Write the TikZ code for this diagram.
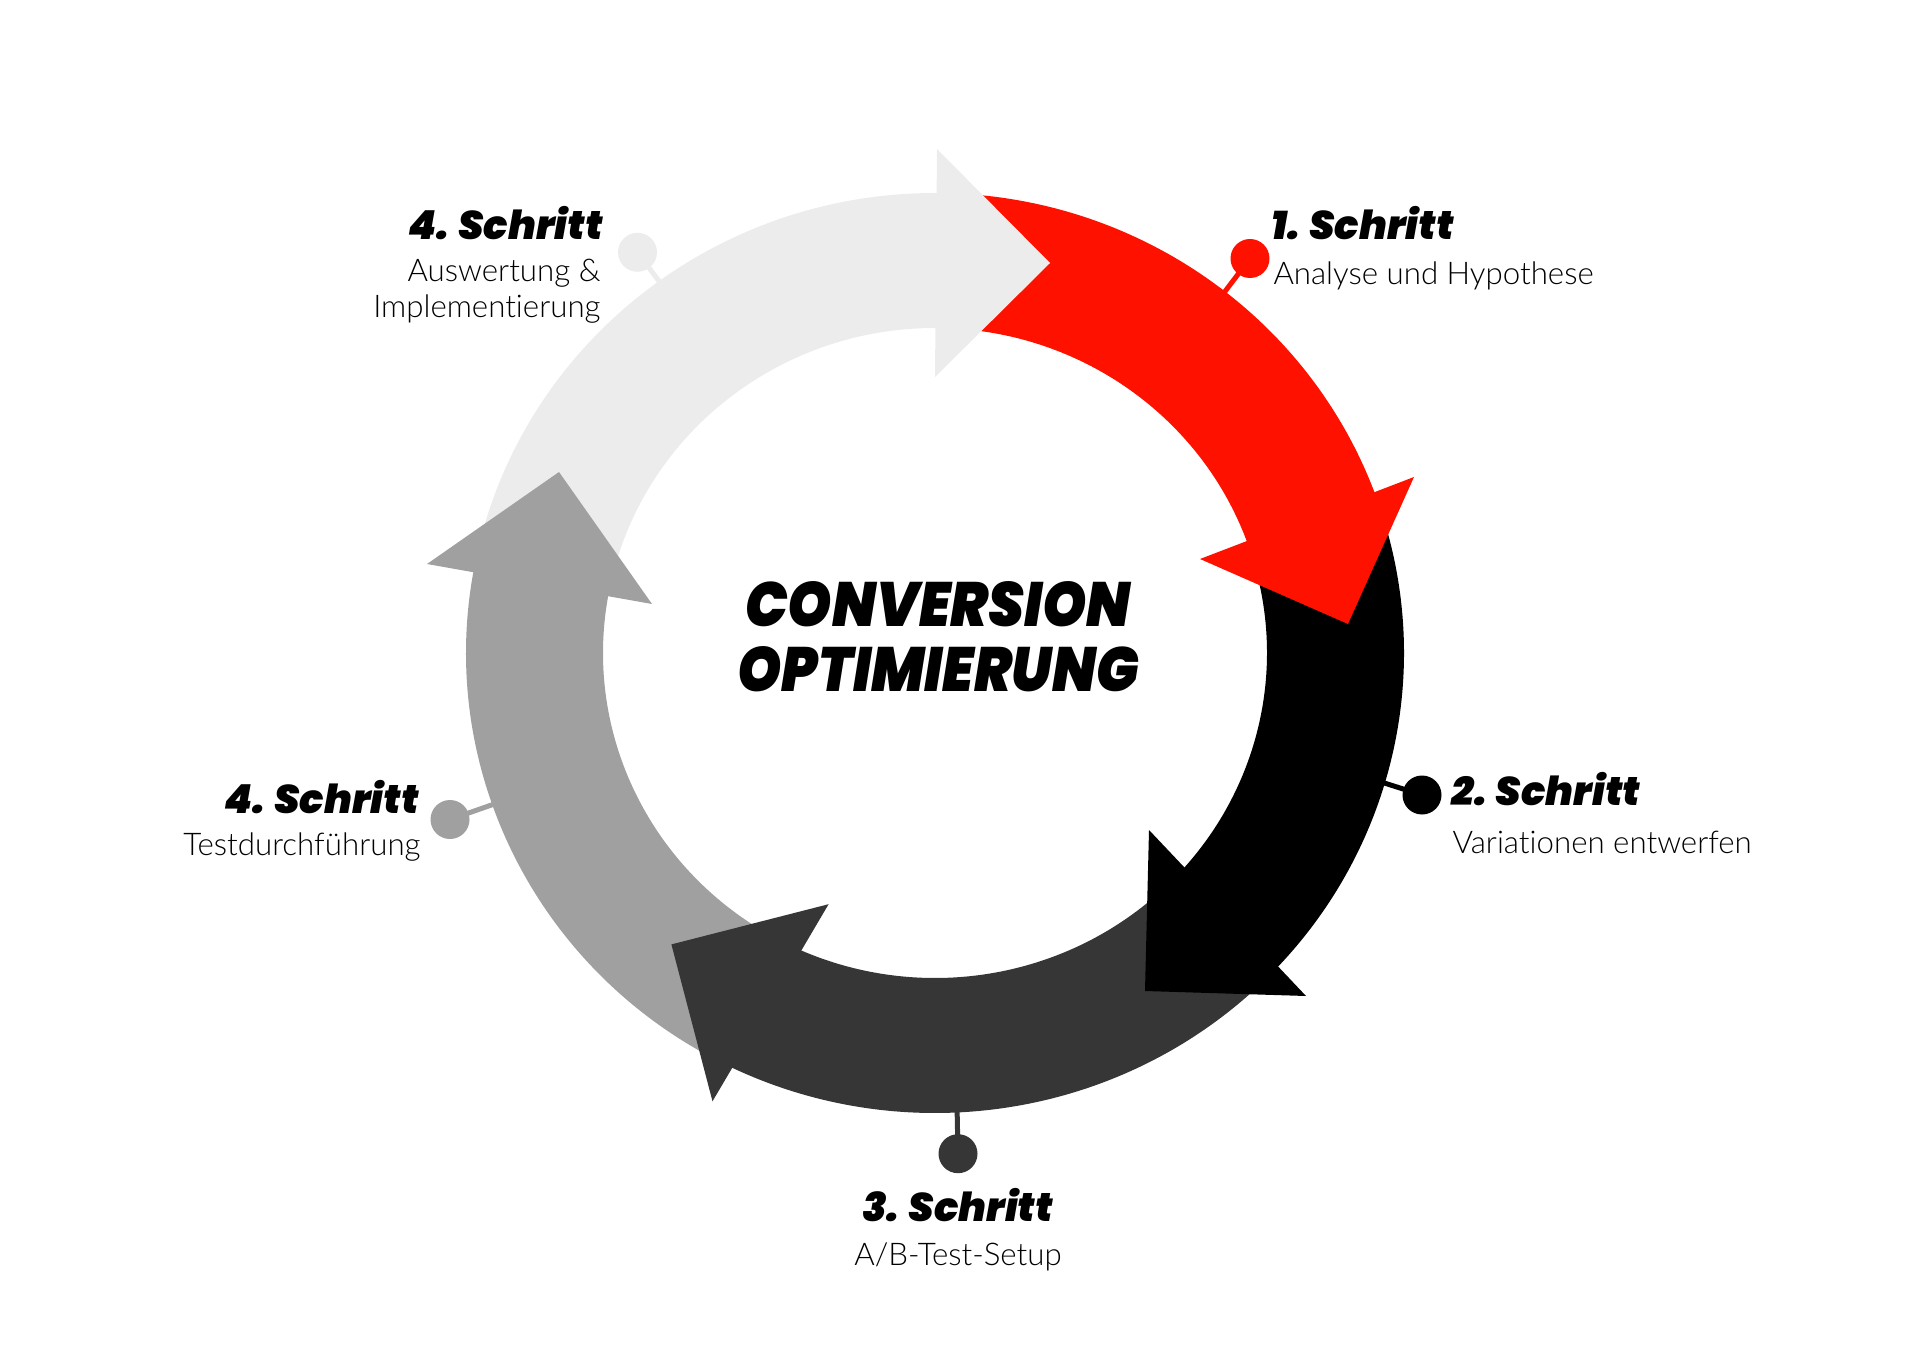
\documentclass[tikz,border=0pt]{standalone}
\usepackage{fontspec}
\usetikzlibrary{calc}
\setmainfont{Lato Light}[Ligatures=NoCommon]
\newfontfamily\heavyfont{Poppins Black Italic}
\newfontfamily\titlefont{Poppins Black Italic}[FakeStretch=0.9]
\definecolor{cred}{HTML}{FF1100}
\definecolor{cblack}{HTML}{000000}
\definecolor{cdark}{HTML}{363636}
\definecolor{cgray}{HTML}{A0A0A0}
\definecolor{clight}{HTML}{ECECEC}
\newcommand\ringband[3]{%
  \fill[#1] ($(C)+(#2:469 and 460)$) arc[start angle=#2, end angle=#3, x radius=469, y radius=460]
    -- ($(C)+(#3:332 and 325)$) arc[start angle=#3, end angle=#2, x radius=332, y radius=325] -- cycle;}
\begin{document}
\begin{tikzpicture}[x=0.4pt,y=0.4pt,
  hd/.style={font=\heavyfont\fontsize{16}{19}\selectfont, inner sep=0pt},
  sb/.style={font=\fontsize{12.5}{14.4}\selectfont, inner sep=0pt},
  ctr/.style={font=\titlefont\fontsize{25}{26}\selectfont, inner sep=0pt, align=center},
  dot/.style={circle, inner sep=0pt, minimum size=15.6pt},
  stub/.style={line width=2pt}]
\useasboundingbox (0,0) rectangle (1920,-1371);
\coordinate (C) at (935,-653);
% dots and stubs
\node[dot, fill=clight] (d4a) at (637.5,-252.3) {};
\node[dot, fill=cred]   (d1)  at (1250,-258.5) {};
\node[dot, fill=cblack] (d2)  at (1422,-795) {};
\node[dot, fill=cdark]  (d3)  at (958,-1153.7) {};
\node[dot, fill=cgray]  (d4b) at (450,-819.5) {};
\coordinate (s4a) at (667,-292);
\coordinate (s1)  at (1220,-298);
\coordinate (s2)  at (1378,-781);
\coordinate (s3)  at (957,-1105);
\coordinate (s4b) at (500,-802);
\draw[stub, clight] (d4a.center) -- (s4a);
\draw[stub, cred]   (d1.center) -- (s1);
\draw[stub, cblack] (d2.center) -- (s2);
\draw[stub, cdark]  (d3.center) -- (s3);
\draw[stub, cgray]  (d4b.center) -- (s4b);
% bands
\ringband{clight}{168}{88.5}
\ringband{cred}{88}{19}
\ringband{cblack}{18}{-43.5}
\ringband{cdark}{-46}{-116}
\ringband{cgray}{-118}{-191.5}
% heads
\fill[clight] (937,-149) -- (1050,-263) -- (935,-377) -- cycle;
\fill[cred]   (1414,-477) -- (1348,-624) -- (1200,-559) -- cycle;
\fill[cblack] (1149,-830) -- (1306,-996) -- (1145,-991) -- cycle;
\fill[cdark]  (828.6,-904.2) -- (671.4,-944.4) -- (712.5,-1101.3) -- cycle;
\fill[cgray]  (427,-564) -- (559,-472) -- (652,-604) -- cycle;
% labels
\node[hd, anchor=east] (h4a) at (603,-223) {4. Schritt};
\node[sb, anchor=east, align=right] (t4a) at (601,-291) {Auswertung \&\\Implementierung};
\node[hd, anchor=west] (h1) at (1271,-223) {1. Schritt};
\node[sb, anchor=west] (t1) at (1273,-276) {Analyse und Hypothese};
\node[hd, anchor=west] (h2) at (1451,-789) {2. Schritt};
\node[sb, anchor=west] (t2) at (1452,-842) {Variationen entwerfen};
\node[hd] (h3) at (957.5,-1205) {3. Schritt};
\node[sb] (t3) at (958,-1257) {A/B-Test-Setup};
\node[hd, anchor=east] (h4b) at (419,-797) {4. Schritt};
\node[sb, anchor=east] (t4b) at (421,-847) {Testdurchführung};
\node[ctr] (title) at (938,-637) {CONVERSION\\OPTIMIERUNG};
\end{tikzpicture}
\end{document}
